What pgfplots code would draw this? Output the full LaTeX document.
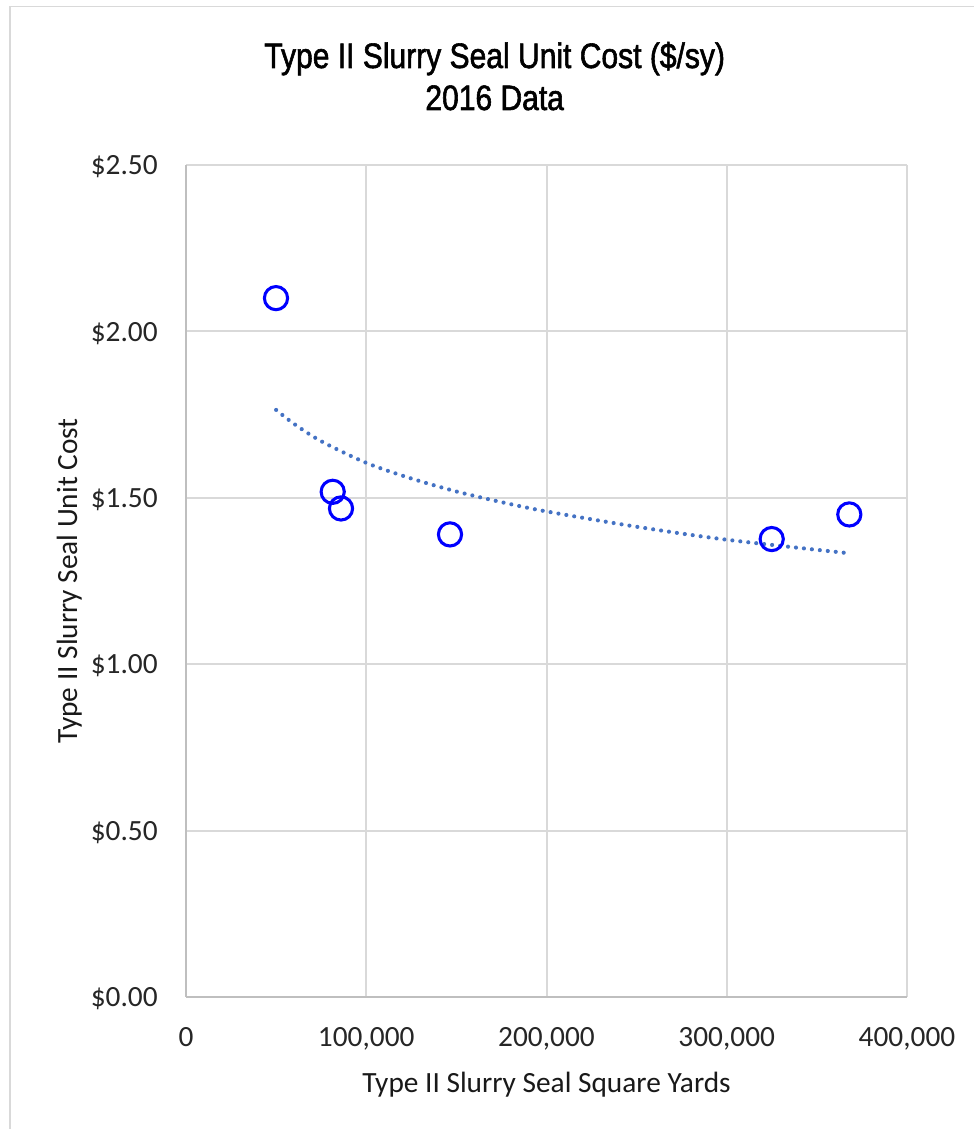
\documentclass[border=0pt]{standalone}
\usepackage{pgfplots}
\pgfplotsset{compat=1.18}
\usepackage{fontspec}
\setmainfont{Carlito}
\newfontfamily\titlefont{Liberation Sans}[FakeStretch=0.85, FakeBold=1.6]
\definecolor{gridc}{HTML}{D9D9D9}
\definecolor{axc}{HTML}{BFBFBF}
\definecolor{trendc}{HTML}{4472C4}
\definecolor{framec}{HTML}{D9D9D9}
\begin{document}
\begin{tikzpicture}
\useasboundingbox (0,0) rectangle (730.5pt,846.75pt);
\fill[white] (0,0) rectangle (730.5pt,846.75pt);
\draw[framec, line width=1.1pt] (7.5pt,-5pt) -- (7.5pt,841.875pt) -- (740pt,841.875pt);
\begin{axis}[
  at={(139.5pt,99pt)}, anchor=south west,
  scale only axis, width=540.75pt, height=624pt,
  xmin=0, xmax=400000, ymin=0, ymax=2.5,
  xtick={0,100000,200000,300000,400000},
  xticklabels={0,{100,000},{200,000},{300,000},{400,000}},
  ytick={0,0.5,1,1.5,2,2.5},
  yticklabels={\$0.00,\$0.50,\$1.00,\$1.50,\$2.00,\$2.50},
  scaled x ticks=false, scaled y ticks=false,
  major tick length=0pt,
  axis x line*=bottom, axis y line*=left,
  axis line style={draw=axc, line width=1.5pt, -},
  grid=major,
  major grid style={draw=gridc, line width=1.5pt},
  ticklabel style={font=\fontsize{22}{26}\selectfont, inner sep=0pt, text=black!85},
  xticklabel style={anchor=north, yshift=-22.5pt},
  yticklabel style={anchor=base east, xshift=-21pt, yshift=-7.3pt},
  xlabel={Type II Slurry Seal Square Yards},
  ylabel={Type II Slurry Seal Unit Cost},
  label style={font=\fontsize{22}{26}\selectfont, inner sep=0pt, text=black!90},
  xlabel style={at={(axis description cs:0.5,-0.1142)}, anchor=base},
  ylabel style={at={(axis description cs:-0.1510,0.5)}, rotate=0, anchor=base},
  clip=false,
]
\addplot[only marks, mark=o, mark size=8.7pt, mark options={draw=blue, line width=2.3pt, fill=none}]
  coordinates {(49931,2.10) (81387,1.518) (85992,1.468) (146463,1.390) (324938,1.376) (367989,1.450)};
\addplot[trendc, line width=3.1pt, line cap=round, dash pattern=on 0pt off 6pt, smooth]
  coordinates {(50000,1.764) (60000,1.722) (75000,1.670) (100000,1.605) (125000,1.558) (150000,1.519) (175000,1.487) (200000,1.459) (250000,1.413) (300000,1.374) (365000,1.335)};
\end{axis}
\node[anchor=base, font=\titlefont\fontsize{26.5}{30}\selectfont] at (371pt,795.75pt) {Type II Slurry Seal Unit Cost (\$/sy)};
\node[anchor=base, font=\titlefont\fontsize{26.5}{30}\selectfont] at (371pt,764.25pt) {2016 Data};
\end{tikzpicture}
\end{document}
